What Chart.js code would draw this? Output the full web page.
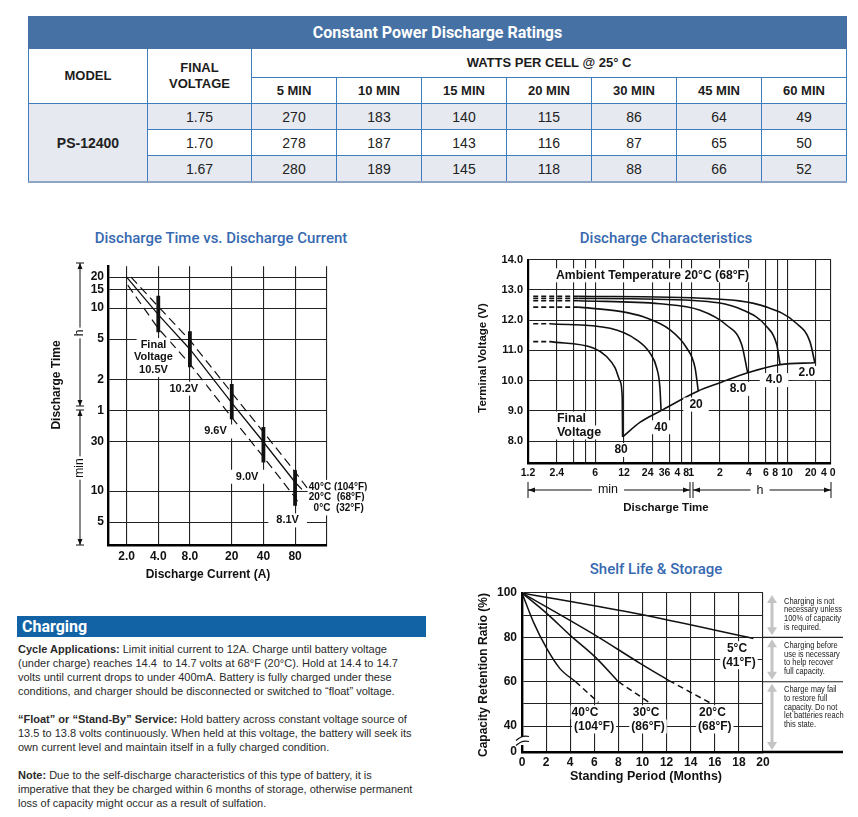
<!DOCTYPE html>
<html>
<head>
<meta charset="utf-8">
<title>PS-12400 discharge data</title>
<script src="https://cdn.jsdelivr.net/npm/chart.js@4.4.1/dist/chart.umd.min.js"></script>
<style>
  body { margin:0; width:858px; height:817px; background:#fff; position:relative; overflow:hidden;
         font-family:"Liberation Sans", Arial, sans-serif; color:#222; }
  #ratings { position:absolute; left:28px; top:16px; width:818px; border-collapse:collapse; table-layout:fixed;
             font-family:"Liberation Sans Narrow","Liberation Sans",Arial,sans-serif; }
  #ratings td, #ratings th { border:1px solid #3d7cbd; text-align:center; padding:0; }
  #ratings th.title { background:#4671a5; color:#fff; font:700 16px Roboto, sans-serif; height:31px; border-color:#4671a5; }
  #ratings th { font-weight:700; font-size:13px; color:#1c1c1c; line-height:16px; }
  #ratings td { font-size:14px; color:#222; height:25px; }
  #ratings tr.shade td { background:#e6e9f0; }
  #ratings td.model { background:#e6e9f0; font-weight:700; }
  #ratings tr.last td { border-bottom:2px solid #8fa5c6; }
  .chart-title { position:absolute; font:500 15px Roboto, sans-serif; color:#3769b0; white-space:nowrap; transform:translateX(-50%); }
  canvas { position:absolute; }
  #charging-bar { position:absolute; left:17px; top:616px; width:409px; height:21px; background:#1263a6;
                  color:#fff; font:700 16px Roboto, sans-serif; line-height:21px; padding-left:5px; box-sizing:border-box; }
  #charging-text { position:absolute; left:18px; top:642px; font-size:11px; line-height:14px; color:#2a2a2a;
                   white-space:nowrap; font-family:"Liberation Sans Narrow","Liberation Sans",Arial,sans-serif; }
  #charging-text p { margin:0 0 14px 0; }
</style>
</head>
<body>

<table id="ratings"></table>

<div class="chart-title" style="left:221px; top:229px;">Discharge Time vs. Discharge Current</div>
<div class="chart-title" style="left:666px; top:229px;">Discharge Characteristics</div>
<div class="chart-title" style="left:656px; top:560px;">Shelf Life &amp; Storage</div>

<canvas id="c1" width="330" height="340" style="left:40px; top:255px;"></canvas>
<canvas id="c2" width="375" height="272" style="left:470px; top:248px;"></canvas>
<canvas id="c3" width="388" height="205" style="left:470px; top:580px;"></canvas>

<div id="charging-bar">Charging</div>
<div id="charging-text">
  <p><b>Cycle Applications:</b> Limit initial current to 12A. Charge until battery voltage<br>(under charge) reaches 14.4 &nbsp;to 14.7 volts at 68°F (20°C). Hold at 14.4 to 14.7<br>volts until current drops to under 400mA. Battery is fully charged under these<br>conditions, and charger should be disconnected or switched to “float” voltage.</p>
  <p><b>“Float” or “Stand-By” Service:</b> Hold battery across constant voltage source of<br>13.5 to 13.8 volts continuously. When held at this voltage, the battery will seek its<br>own current level and maintain itself in a fully charged condition.</p>
  <p><b>Note:</b> Due to the self-discharge characteristics of this type of battery, it is<br>imperative that they be charged within 6 months of storage, otherwise permanent<br>loss of capacity might occur as a result of sulfation.</p>
</div>

<script>
// ---------- table ----------
const durations = ['5 MIN', '10 MIN', '15 MIN', '20 MIN', '30 MIN', '45 MIN', '60 MIN'];
const finalVoltages = ['1.75', '1.70', '1.67'];
const watts175 = [270, 183, 140, 115, 86, 64, 49];
const watts170 = [278, 187, 143, 116, 87, 65, 50];
const watts167 = [280, 189, 145, 118, 88, 66, 52];

// ---------- discharge time vs discharge current (A, minutes) ----------
const currentTicks = [2, 4, 8, 20, 40, 80, 161];
const currentTickLabels = ['2.0', '4.0', '8.0', '20', '40', '80', ''];
const timeTicks = [5, 10, 30, 60, 120, 300, 600, 900, 1200];
const timeTickLabels = ['5', '10', '30', '1', '2', '5', '10', '15', '20'];
const time40C = [[2.2, 1200], [4, 620], [8, 292], [20, 90], [40, 37.5], [80, 15.4], [106, 10.5]];
const time20C = [[2, 1200], [4, 518], [8, 239], [20, 72], [40, 30], [80, 12.2], [93, 10.4]];
const time0C = [[2.05, 1000], [4, 380], [8, 172], [20, 52], [40, 21.5], [80, 8.7], [88, 7.4]];
const markerAmps = [4, 8, 20, 40, 80];
const markerTop = [790, 357, 110, 42, 16];
const markerBottom = [350, 160, 50, 19, 7.2];
const markerText = ['10.5V', '10.2V', '9.6V', '9.0V', '8.1V'];
const markerTextAmps = [3.6, 7, 14, 28, 68];
const markerTextMin = [150, 99, 38, 13.8, 5.2];

// ---------- discharge characteristics (minutes, volts) ----------
const dischargeTicks = [1.2, 2.4, 3.6, 4.8, 6, 12, 24, 36, 48, 60, 120, 240, 360, 480, 600, 1200, 1720];
const dischargeTickLabels = ['1.2', '2.4', '', '', '6', '12', '24\u2003', '36\u2003', '4 8', '1', '2', '4', '6', '8\u2002', '10', '20\u2003', '4 0\u2002'];
const voltTicks = [8, 9, 10, 11, 12, 13, 14];
const startVolts = [12.79, 12.72, 12.64, 12.43, 11.88, 11.29];
const startEnds = [4, 4, 4, 4, 2.03, 2.03];
const curve2A = [[4, 12.79], [95, 12.71], [369, 12.43], [754, 11.89], [1038, 11.29], [1168, 10.59]];
const curve4A = [[4, 12.72], [63, 12.65], [210, 12.33], [369, 11.78], [468, 11.19], [507, 10.53]];
const curve8A = [[4, 12.64], [28.4, 12.54], [74.4, 12.33], [140, 11.84], [202, 11.19], [233, 10.26]];
const curve20A = [[4, 12.43], [10.9, 12.29], [19.1, 12.11], [36.3, 11.68], [54, 11.08], [66, 10.42], [71.2, 9.66]];
const curve40A = [[2.03, 11.88], [8.6, 11.73], [16.2, 11.35], [22.4, 10.91], [26.3, 10.42], [28.4, 9.77], [29.2, 9.01]];
const curve80A = [[2.03, 11.29], [5.75, 11.08], [7.9, 10.8], [9.7, 10.42], [10.9, 9.99], [11.5, 9.45], [11.6, 8.14]];
const finalVoltCurve = [[11.6, 8.14], [17.7, 8.63], [29.2, 9.01], [71.2, 9.66], [120, 9.93], [233, 10.26], [507, 10.53], [1168, 10.59]];
const currentNames = ['80', '40', '20', '8.0', '4.0', '2.0'];
const currentNameTime = [11.2, 29.1, 67.6, 185, 439, 966];
const currentNameVolt = [7.71, 8.46, 9.21, 9.73, 10.02, 10.25];

// ---------- shelf life (months, %) ----------
const monthTicks = [0, 2, 4, 6, 8, 10, 12, 14, 16, 18, 20];
const ratioTicks = [28.3, 40, 50, 60, 70, 80, 90, 100];
const ratioTickLabels = ['0', '40', '', '60', '', '80', '', '100'];
const shelf5C = [[0, 100], [9.8, 90.4], [19.2, 79.5]];
const shelf20C = [[0, 100], [6.06, 81], [9.8, 68.3], [12.2, 60.5]];
const shelf20CDash = [[12.2, 60.5], [15.7, 50.2]];
const shelf30C = [[0, 100], [2.05, 90.8], [3.98, 81], [6.06, 71.2], [8.0, 60]];
const shelf30CDash = [[8.0, 60], [10.7, 50.1]];
const shelf40C = [[0, 100], [0.94, 87], [2.05, 75], [3.15, 65.9], [4.45, 60]];
const shelf40CDash = [[4.45, 60], [6.35, 50.6]];
const panelNotes = [
  ['Charging is not', 'necessary unless', '100% of capacity', 'is required.'],
  ['Charging before', 'use is necessary', 'to help recover', 'full capacity.'],
  ['Charge may fail', 'to restore full', 'capacity. Do not', 'let batteries reach', 'this state.']
];

// ---------- build table ----------
const table = document.getElementById('ratings');
let html = '<colgroup><col style="width:119px"><col style="width:104px">' +
  durations.map(() => '<col style="width:85px">').join('') + '</colgroup>';
html += '<tr><th colspan="9" class="title">Constant Power Discharge Ratings</th></tr>';
html += '<tr style="height:29px"><th rowspan="2">MODEL</th><th rowspan="2">FINAL<br>VOLTAGE</th><th colspan="7">WATTS PER CELL @ 25° C</th></tr>';
html += '<tr style="height:26px">' + durations.map(d => '<th>' + d + '</th>').join('') + '</tr>';
[watts175, watts170, watts167].forEach((row, i) => {
  const cls = (i !== 1 ? 'shade' : '') + (i === 2 ? ' last' : '');
  html += '<tr class="' + cls + '">';
  if (i === 0) html += '<td rowspan="3" class="model" style="border-bottom:2px solid #8fa5c6">PS-12400</td>';
  html += '<td>' + finalVoltages[i] + '</td>' + row.map(v => '<td>' + v + '</td>').join('') + '</tr>';
});
table.innerHTML = html;

// ---------- helpers ----------
Chart.defaults.font.family = '"Liberation Sans", Arial, sans-serif';
Chart.defaults.color = '#111';

const xy = pts => pts.map(p => ({ x: p[0], y: p[1] }));

function head(ctx, x, y, dx, dy, L, W) {
  ctx.beginPath();
  ctx.moveTo(x, y);
  ctx.lineTo(x - dx * L - dy * W, y - dy * L + dx * W);
  ctx.lineTo(x - dx * L + dy * W, y - dy * L - dx * W);
  ctx.closePath();
  ctx.fill();
}

function text(ctx, str, x, y, font, opts) {
  opts = opts || {};
  ctx.font = font;
  ctx.textAlign = opts.align || 'center';
  ctx.textBaseline = 'middle';
  if (opts.box) {
    const w = ctx.measureText(str).width;
    const left = opts.align === 'left' ? x - opts.box : x - w / 2 - opts.box;
    ctx.fillStyle = '#fff';
    ctx.fillRect(left, y - 7, w + opts.box * 2, 14);
  }
  ctx.fillStyle = opts.color || '#111';
  if (opts.sx) {
    ctx.save();
    ctx.translate(x, y);
    ctx.scale(opts.sx, 1);
    ctx.fillText(str, 0, 0);
    ctx.restore();
  } else {
    ctx.fillText(str, x, y);
  }
}

function vText(ctx, str, x, y, font, box) {
  ctx.save();
  ctx.translate(x, y);
  ctx.rotate(-Math.PI / 2);
  text(ctx, str, 0, 0, font, { box: box });
  ctx.restore();
}

function logAxis(min, max, ticks, labels, size, fitSize, isX) {
  return {
    type: 'logarithmic', min: min, max: max,
    afterBuildTicks: s => { s.ticks = ticks.map(v => ({ value: v })); },
    afterFit: s => { if (isX) s.height = fitSize; else s.width = fitSize; },
    ticks: { callback: (v, i) => labels[i], autoSkip: false, maxRotation: 0, padding: 4,
             font: { weight: 'bold', size: size }, color: '#111' },
    grid: { color: '#222', lineWidth: 1.1, drawTicks: false },
    border: { color: '#000', width: 2.4 }
  };
}

const lineDefaults = { showLine: true, borderColor: '#111', pointRadius: 0, fill: false };
const B = size => 'bold ' + size + 'px "Liberation Sans", Arial, sans-serif';

// ---------- chart 1 ----------
const pos1 = { left: 40, top: 255 };
const datasets1 = [
  Object.assign({ data: xy(time40C), borderWidth: 1.2, borderDash: [9, 5] }, lineDefaults),
  Object.assign({ data: xy(time20C), borderWidth: 1.3 }, lineDefaults),
  Object.assign({ data: xy(time0C), borderWidth: 1.2, borderDash: [9, 5] }, lineDefaults)
];
markerAmps.forEach((a, i) => {
  datasets1.push(Object.assign({ data: [{ x: a, y: markerTop[i] }, { x: a, y: markerBottom[i] }], borderWidth: 3.8 }, lineDefaults));
});

const decor1 = {
  id: 'decor1',
  afterDraw(chart) {
    const { ctx, scales: { x, y } } = chart;
    text(ctx, 'Final', x.getPixelForValue(markerTextAmps[0]), y.getPixelForValue(262), B(11), { box: 4 });
    text(ctx, 'Voltage', x.getPixelForValue(markerTextAmps[0]), y.getPixelForValue(200), B(11), { box: 4 });
    markerText.forEach((t, i) => {
      text(ctx, t, x.getPixelForValue(markerTextAmps[i]), y.getPixelForValue(markerTextMin[i]), B(11), { box: 8 });
    });
    text(ctx, '40°C (104°F)', x.getPixelForValue(108), y.getPixelForValue(11.0), B(10), { align: 'left', box: 1 });
    text(ctx, '20°C  (68°F)', x.getPixelForValue(108), y.getPixelForValue(8.7), B(10), { align: 'left', box: 1 });
    text(ctx, '0°C  (32°F)', x.getPixelForValue(120), y.getPixelForValue(6.8), B(10), { align: 'left', box: 1 });

    ctx.save();
    ctx.translate(-pos1.left, -pos1.top);
    vText(ctx, 'Discharge Time', 57, 385, B(12));
    text(ctx, 'Discharge Current (A)', 208, 575, B(12));
    ctx.strokeStyle = '#111'; ctx.fillStyle = '#111'; ctx.lineWidth = 1;
    [[263, 406], [410, 545]].forEach(seg => {
      ctx.beginPath(); ctx.moveTo(80, seg[0]); ctx.lineTo(80, seg[1]); ctx.stroke();
      seg.forEach(v => { ctx.beginPath(); ctx.moveTo(76, v); ctx.lineTo(84, v); ctx.stroke(); });
      head(ctx, 80, seg[0], 0, -1, 6, 2.5);
      head(ctx, 80, seg[1], 0, 1, 6, 2.5);
    });
    vText(ctx, 'h', 80, 333, '12px "Liberation Sans", Arial, sans-serif', 2);
    vText(ctx, 'min', 80, 468, '12px "Liberation Sans", Arial, sans-serif', 2);
    ctx.restore();
  }
};

new Chart(document.getElementById('c1'), {
  type: 'scatter',
  data: { datasets: datasets1 },
  options: {
    responsive: false, animation: false,
    layout: { padding: { top: 8, right: 43, left: 0, bottom: 0 } },
    plugins: { legend: { display: false }, tooltip: { enabled: false } },
    scales: {
      x: logAxis(1.33, 161, currentTicks, currentTickLabels, 12, 50, true),
      y: logAxis(3.0, 1530, timeTicks, timeTickLabels, 12, 68, false)
    }
  },
  plugins: [decor1]
});

// ---------- chart 2 ----------
const pos2 = { left: 470, top: 248 };
const datasets2 = [];
startVolts.forEach((v, i) => {
  datasets2.push(Object.assign({ data: [{ x: 1.36, y: v }, { x: startEnds[i], y: v }], borderWidth: 1.6, borderDash: [5, 3] }, lineDefaults));
});
[curve2A, curve4A, curve8A, curve20A, curve40A, curve80A].forEach(c => {
  datasets2.push(Object.assign({ data: xy(c), borderWidth: 1.6, cubicInterpolationMode: 'monotone' }, lineDefaults));
});
datasets2.push(Object.assign({ data: xy(finalVoltCurve), borderWidth: 1.6, cubicInterpolationMode: 'monotone' }, lineDefaults));

const decor2 = {
  id: 'decor2',
  afterDraw(chart) {
    const { ctx, scales: { x, y } } = chart;
    text(ctx, 'Ambient Temperature 20°C (68°F)', x.getPixelForValue(2.35), y.getPixelForValue(13.48), B(12.2), { align: 'left', box: 3 });
    text(ctx, 'Final', x.getPixelForValue(2.4), y.getPixelForValue(8.75), B(12.5), { align: 'left', box: 1 });
    text(ctx, 'Voltage', x.getPixelForValue(2.4), y.getPixelForValue(8.29), B(12.5), { align: 'left', box: 1 });
    currentNames.forEach((n, i) => {
      text(ctx, n, x.getPixelForValue(currentNameTime[i]), y.getPixelForValue(currentNameVolt[i]), B(12), { box: 6 });
    });

    ctx.save();
    ctx.translate(-pos2.left, -pos2.top);
    vText(ctx, 'Terminal Voltage (V)', 483, 358, B(11.5));
    text(ctx, 'Discharge Time', 666, 508, B(11.5));
    ctx.strokeStyle = '#111'; ctx.fillStyle = '#111'; ctx.lineWidth = 1;
    [[528, 690], [693, 831]].forEach(seg => {
      ctx.beginPath(); ctx.moveTo(seg[0], 490); ctx.lineTo(seg[1], 490); ctx.stroke();
      seg.forEach(v => { ctx.beginPath(); ctx.moveTo(v, 482); ctx.lineTo(v, 498); ctx.stroke(); });
      head(ctx, seg[0], 490, -1, 0, 7, 2.5);
      head(ctx, seg[1], 490, 1, 0, 7, 2.5);
    });
    text(ctx, 'min', 608, 490, '12.5px "Liberation Sans", Arial, sans-serif', { box: 6 });
    text(ctx, 'h', 760, 491, '12.5px "Liberation Sans", Arial, sans-serif', { box: 6 });
    ctx.restore();
  }
};

new Chart(document.getElementById('c2'), {
  type: 'scatter',
  data: { datasets: datasets2 },
  options: {
    responsive: false, animation: false,
    layout: { padding: { top: 9, right: 14, left: 0, bottom: 0 } },
    plugins: { legend: { display: false }, tooltip: { enabled: false } },
    scales: {
      x: logAxis(1.2, 1720, dischargeTicks, dischargeTickLabels, 10.5, 57, true),
      y: {
        type: 'linear', min: 7.28, max: 14,
        afterBuildTicks: s => { s.ticks = voltTicks.map(v => ({ value: v })); },
        afterFit: s => { s.width = 58; },
        ticks: { callback: v => v.toFixed(1), padding: 5, font: { weight: 'bold', size: 11 }, color: '#111' },
        grid: { color: '#222', lineWidth: 1.1, drawTicks: false },
        border: { color: '#000', width: 2.2 }
      }
    }
  },
  plugins: [decor2]
});

// ---------- chart 3 ----------
const pos3 = { left: 470, top: 580 };
const datasets3 = [
  Object.assign({ data: xy(shelf5C), borderWidth: 1.5, tension: 0.3 }, lineDefaults),
  Object.assign({ data: xy(shelf20C), borderWidth: 1.5, cubicInterpolationMode: 'monotone' }, lineDefaults),
  Object.assign({ data: xy(shelf20CDash), borderWidth: 1.5, borderDash: [6, 4] }, lineDefaults),
  Object.assign({ data: xy(shelf30C), borderWidth: 1.5, cubicInterpolationMode: 'monotone' }, lineDefaults),
  Object.assign({ data: xy(shelf30CDash), borderWidth: 1.5, borderDash: [6, 4] }, lineDefaults),
  Object.assign({ data: xy(shelf40C), borderWidth: 1.5, cubicInterpolationMode: 'monotone' }, lineDefaults),
  Object.assign({ data: xy(shelf40CDash), borderWidth: 1.5, borderDash: [6, 4] }, lineDefaults)
];

const decor3 = {
  id: 'decor3',
  beforeDatasetsDraw(chart) {
    const { ctx, chartArea: a, scales: { y } } = chart;
    ctx.save();
    ctx.strokeStyle = '#222'; ctx.lineWidth = 1.1;
    [80, 60].forEach(v => {
      const py = y.getPixelForValue(v);
      ctx.beginPath(); ctx.moveTo(a.right, py); ctx.lineTo(a.right + 80, py); ctx.stroke();
    });
    ctx.strokeStyle = '#000'; ctx.lineWidth = 2.4;
    ctx.beginPath(); ctx.moveTo(a.right, a.bottom); ctx.lineTo(a.right + 80, a.bottom); ctx.stroke();
    ctx.restore();
  },
  afterDraw(chart) {
    const { ctx, chartArea: a, scales: { x, y } } = chart;
    const b = B(12);
    text(ctx, '5°C', x.getPixelForValue(17.84), y.getPixelForValue(75.1), b, { box: 1 });
    text(ctx, '(41°F)', x.getPixelForValue(18.0), y.getPixelForValue(68.8), b, { box: 2 });
    text(ctx, '40°C', x.getPixelForValue(5.23), y.getPixelForValue(46.2), b, { box: 1 });
    text(ctx, '(104°F)', x.getPixelForValue(5.98), y.getPixelForValue(39.8), b, { box: 2 });
    text(ctx, '30°C', x.getPixelForValue(10.3), y.getPixelForValue(46.2), b, { box: 1 });
    text(ctx, '(86°F)', x.getPixelForValue(10.46), y.getPixelForValue(39.8), b, { box: 2 });
    text(ctx, '20°C', x.getPixelForValue(15.8), y.getPixelForValue(46.2), b, { box: 1 });
    text(ctx, '(68°F)', x.getPixelForValue(16.0), y.getPixelForValue(39.8), b, { box: 2 });

    // axis break
    const by = (y.getPixelForValue(40) + a.bottom) / 2 + 2;
    ctx.save();
    ctx.fillStyle = '#fff';
    ctx.fillRect(a.left - 3, by - 4, 6, 8);
    ctx.strokeStyle = '#111'; ctx.lineWidth = 1.2;
    [-2.5, 2.5].forEach(d => {
      ctx.beginPath();
      ctx.moveTo(a.left - 6, by + d + 2);
      ctx.quadraticCurveTo(a.left, by + d - 4, a.left + 7, by + d - 2);
      ctx.stroke();
    });
    ctx.restore();

    // side notes
    const py80 = y.getPixelForValue(80), py60 = y.getPixelForValue(60), py100 = y.getPixelForValue(100);
    const rows = [[py100 + 2, py80 - 2], [py80 + 2, py60 - 2], [py60 + 2, a.bottom - 2]];
    ctx.save();
    ctx.strokeStyle = '#c4c4c4'; ctx.fillStyle = '#c4c4c4'; ctx.lineWidth = 3;
    rows.forEach(r => {
      const ax = a.right + 9;
      ctx.beginPath(); ctx.moveTo(ax, r[0] + 6); ctx.lineTo(ax, r[1] - 6); ctx.stroke();
      head(ctx, ax, r[0], 0, -1, 8, 5);
      head(ctx, ax, r[1], 0, 1, 8, 5);
    });
    ctx.restore();
    const nf = '9.4px "Liberation Sans", Arial, sans-serif';
    panelNotes.forEach((lines, i) => {
      lines.forEach((ln, j) => {
        text(ctx, ln, a.right + 21, rows[i][0] + 6 + j * 8.7, nf, { align: 'left', color: '#1a1a1a', sx: 0.8 });
      });
    });

    ctx.save();
    ctx.translate(-pos3.left, -pos3.top);
    vText(ctx, 'Capacity Retention Ratio (%)', 484, 675, B(12));
    text(ctx, 'Standing Period (Months)', 646, 777, B(12.5));
    ctx.restore();
  }
};

new Chart(document.getElementById('c3'), {
  type: 'scatter',
  data: { datasets: datasets3 },
  options: {
    responsive: false, animation: false,
    layout: { padding: { top: 13, right: 95, left: 0, bottom: 0 } },
    plugins: { legend: { display: false }, tooltip: { enabled: false } },
    scales: {
      x: {
        type: 'linear', min: 0, max: 20,
        afterBuildTicks: s => { s.ticks = monthTicks.map(v => ({ value: v })); },
        afterFit: s => { s.height = 33; },
        ticks: { padding: 3, autoSkip: false, maxRotation: 0, font: { weight: 'bold', size: 12 }, color: '#111' },
        grid: { color: '#222', lineWidth: 1.1, drawTicks: false },
        border: { color: '#000', width: 2.4 }
      },
      y: {
        type: 'linear', min: 28.3, max: 100,
        afterBuildTicks: s => { s.ticks = ratioTicks.map(v => ({ value: v })); },
        afterFit: s => { s.width = 52; },
        ticks: { callback: (v, i) => ratioTickLabels[i], autoSkip: false, padding: 5, font: { weight: 'bold', size: 12 }, color: '#111' },
        grid: { color: '#222', lineWidth: 1.1, drawTicks: false },
        border: { color: '#000', width: 2.4 }
      }
    }
  },
  plugins: [decor3]
});
</script>
</body>
</html>
